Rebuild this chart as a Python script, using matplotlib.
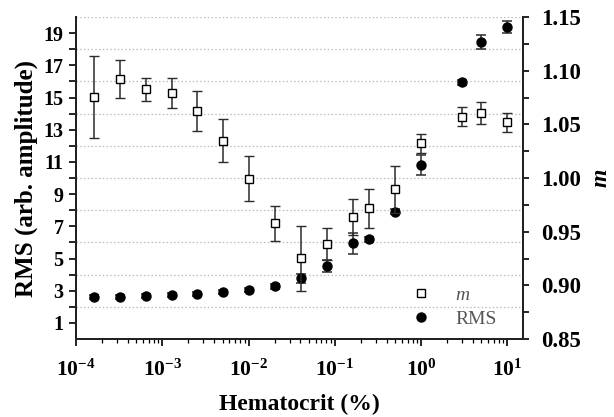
import math
import matplotlib
matplotlib.use("Agg")
import matplotlib.pyplot as plt
from matplotlib.ticker import FixedLocator, FuncFormatter, LogLocator, NullFormatter
from matplotlib.lines import Line2D

plt.rcParams['font.family'] = ['Liberation Serif', 'DejaVu Serif']
plt.rcParams['mathtext.fontset'] = 'custom'
plt.rcParams['mathtext.rm'] = 'Liberation Serif:bold'
plt.rcParams['mathtext.bf'] = 'Liberation Serif:bold'

# Data
hematocrit = [1.6e-4, 3.2e-4, 6.4e-4, 1.28e-3, 2.56e-3, 5.12e-3, 1.02e-2, 2.05e-2,
              4.1e-2, 8.2e-2, 0.164, 0.25, 0.5, 1.0, 3.0, 5.0, 10.0]
rms = [2.63, 2.61, 2.69, 2.75, 2.81, 2.90, 3.04, 3.27,
       3.77, 4.55, 5.94, 6.19, 7.91, 10.81, 15.96, 18.45, 19.40]
rms_err = [0.12, 0.12, 0.12, 0.12, 0.12, 0.12, 0.12, 0.15,
           0.30, 0.37, 0.65, 0.15, 0.15, 0.65, 0.15, 0.45, 0.38]
m_vals = [1.0757, 1.0922, 1.0826, 1.0789, 1.0621, 1.0348, 0.9993, 0.9578,
          0.9252, 0.9382, 0.9639, 0.9717, 0.9895, 1.0323, 1.0571, 1.0608, 1.0519]
m_err = [0.038, 0.018, 0.011, 0.014, 0.0187, 0.020, 0.021, 0.016,
         0.030, 0.015, 0.017, 0.018, 0.022, 0.0085, 0.009, 0.010, 0.009]

left_ticks = [1, 3, 5, 7, 9, 11, 13, 15, 17, 19]
right_ticks = [0.85, 0.90, 0.95, 1.00, 1.05, 1.10, 1.15]

fig = plt.figure(figsize=(6.14, 4.17), dpi=100)
ax1 = fig.add_axes([0.1238, 0.187, 0.7280, 0.772])
ax2 = ax1.twinx()

ax1.set_xscale('log')
ax1.set_xlim(1e-4, 15.2)
ax1.set_ylim(0, 20)
ax2.set_ylim(0.85, 1.15)

# grid
for g in range(2, 21, 2):
    ax1.axhline(g, color='#bdbdbd', lw=0.9, ls=(0, (1.2, 1.8)), zorder=0)

ecol = '#2b2b2b'
ax1.errorbar(hematocrit, rms, yerr=rms_err, fmt='o', ms=6.5, mfc='black', mec='black',
             ecolor=ecol, elinewidth=1.1, capsize=3.4, capthick=1.1, zorder=3)
ax2.errorbar(hematocrit, m_vals, yerr=m_err, fmt='s', ms=5.2, mfc='white', mec='black',
             mew=1.0, ecolor=ecol, elinewidth=1.1, capsize=3.4, capthick=1.1, zorder=3)

for ax in (ax1, ax2):
    ax.spines['top'].set_visible(False)
    for s in ax.spines.values():
        s.set_linewidth(1.4)
        s.set_color('#222222')

# left ticks
ax1.yaxis.set_major_locator(FixedLocator(left_ticks))
ax1.yaxis.set_minor_locator(FixedLocator(list(range(2, 20, 2))))
ax1.tick_params(axis='y', which='both', direction='out', length=5, width=1.2,
                labelsize=14.5, pad=4)
for lbl in ax1.get_yticklabels():
    lbl.set_fontweight('bold')

# right ticks
ax2.yaxis.set_major_locator(FixedLocator(right_ticks))
ax2.yaxis.set_minor_locator(FixedLocator([0.875, 0.925, 0.975, 1.025, 1.075, 1.125]))
ax2.yaxis.set_major_formatter(FuncFormatter(lambda v, p: f"{v:.2f}"))
ax2.tick_params(axis='y', which='both', direction='out', length=4, width=1.2,
                labelsize=16.5, pad=9)
for lbl in ax2.get_yticklabels():
    lbl.set_fontweight('bold')

# x ticks
ax1.xaxis.set_major_locator(LogLocator(base=10, numticks=10))
ax1.xaxis.set_minor_locator(LogLocator(base=10, subs=range(2, 10), numticks=10))
ax1.xaxis.set_minor_formatter(NullFormatter())
ax1.xaxis.set_major_formatter(FuncFormatter(lambda v, p: r'$\mathbf{10^{%d}}$' % round(math.log10(v))))
ax1.tick_params(axis='x', which='major', direction='out', length=5, width=1.2,
                labelsize=15.5, pad=10)
ax1.tick_params(axis='x', which='minor', direction='out', length=3, width=0.9)

ax1.set_xlabel('Hematocrit (%)', fontsize=17, fontweight='bold', labelpad=9)
ax1.set_ylabel('RMS (arb. amplitude)', fontsize=18, fontweight='bold', labelpad=4)
ax2.set_ylabel('m', fontsize=17, fontweight='bold', fontstyle='italic', rotation=90,
               va='center', ha='center')
ax2.yaxis.set_label_coords(1.175, 0.5)

handles = [Line2D([], [], marker='s', ls='none', ms=5.2, mfc='white', mec='black', mew=1.0),
           Line2D([], [], marker='o', ls='none', ms=6.5, mfc='black', mec='black')]
leg = ax2.legend(handles, ['m', 'RMS'], loc='lower left', bbox_to_anchor=(0.71, -0.02),
                 frameon=False, fontsize=14, handletextpad=1.3, labelspacing=0.35,
                 handlelength=1.0)
texts = leg.get_texts()
texts[0].set_fontstyle('italic')
for t in texts:
    t.set_color('#555555')

fig.savefig('out.png', dpi=100)
